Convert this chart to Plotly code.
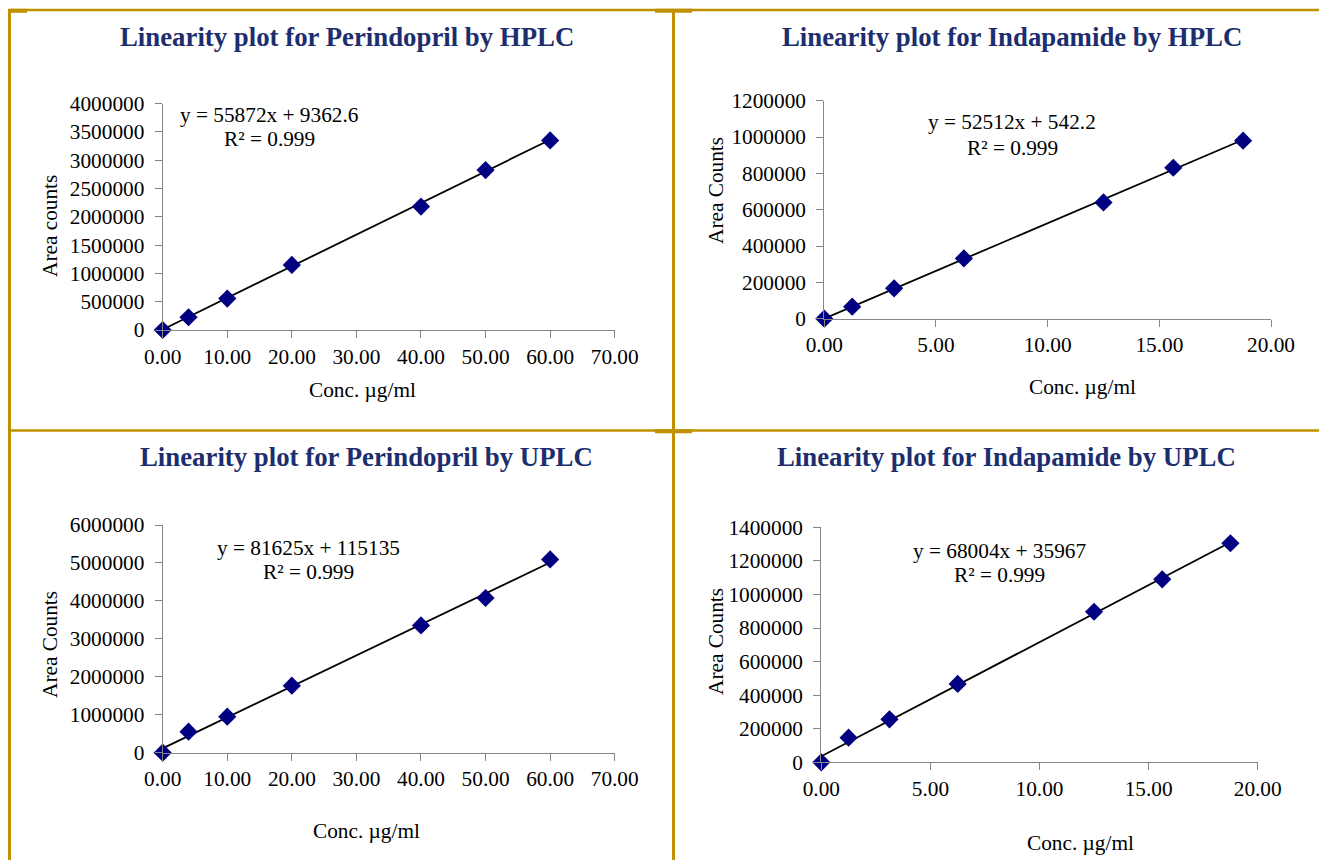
import plotly.graph_objects as go

# ---- data -------------------------------------------------------------
conc_perindopril = [0, 4, 10, 20, 40, 50, 60]
area_perindopril_hplc = [0, 225000, 555000, 1150000, 2180000, 2825000, 3350000]
area_perindopril_uplc = [0, 553000, 950000, 1765000, 3355000, 4076000, 5094000]

conc_indapamide = [0, 1.25, 3.125, 6.25, 12.5, 15.625, 18.75]
area_indapamide_hplc = [0, 66000, 167000, 332000, 640000, 831000, 980000]
area_indapamide_uplc = [0, 147000, 256000, 467000, 897000, 1090000, 1305000]

# regression results (slope, intercept, R²)
fit_perindopril_hplc = (55872, 9362.6, 0.999)
fit_indapamide_hplc = (52512, 542.2, 0.999)
fit_perindopril_uplc = (81625, 115135, 0.999)
fit_indapamide_uplc = (68004, 35967, 0.999)

titles = [
    "Linearity plot for Perindopril by HPLC",
    "Linearity plot for Indapamide by HPLC",
    "Linearity plot for Perindopril by UPLC",
    "Linearity plot for Indapamide by UPLC",
]
y_titles = ["Area counts", "Area Counts", "Area Counts", "Area Counts"]
x_title = "Conc. µg/ml"

x_ranges = [(0, 70, 10), (0, 20, 5), (0, 70, 10), (0, 20, 5)]
y_ranges = [(0, 4000000, 500000), (0, 1200000, 200000),
            (0, 6000000, 1000000), (0, 1400000, 200000)]

# ---- layout geometry (pixels) -----------------------------------------
W, H = 1319, 860
# plot-area boxes: left, right, top, bottom
boxes = [
    (162.7, 614.7, 103.6, 330.0),
    (824.3, 1271.0, 100.7, 318.7),
    (162.7, 614.7, 525.0, 752.7),
    (821.3, 1257.7, 527.3, 762.3),
]
title_pos = [(347, 37), (1012, 37), (367, 457), (1006, 457)]
xtitle_pos = [(363, 390), (1082, 387), (367, 831), (1080, 843)]
ytitle_pos = [(50, 226), (716, 191), (50, 645), (716, 642)]
eq_pos = [(269, 115, 139), (1012, 122, 148), (308, 548, 572), (999, 551, 575)]

SERIF = "Liberation Serif, Times New Roman, serif"
NAVY = "#1c2e6e"
GOLD = "#bf9000"
AXIS_GRAY = "#868686"
TXT = 21.3


def px(x):
    return x / W


def py(y):
    return 1 - y / H


panels = [
    (conc_perindopril, area_perindopril_hplc, fit_perindopril_hplc),
    (conc_indapamide, area_indapamide_hplc, fit_indapamide_hplc),
    (conc_perindopril, area_perindopril_uplc, fit_perindopril_uplc),
    (conc_indapamide, area_indapamide_uplc, fit_indapamide_uplc),
]

fig = go.Figure()
layout = dict(
    template="none",
    width=W, height=H,
    margin=dict(l=0, r=0, t=0, b=0, pad=0, autoexpand=False),
    paper_bgcolor="white", plot_bgcolor="white",
    showlegend=False,
    font=dict(family=SERIF, color="black", size=TXT),
)
annotations = []

for i, (xs, ys, (slope, intercept, r2)) in enumerate(panels):
    n = "" if i == 0 else str(i + 1)
    xa, ya = "x" + n, "y" + n
    l, r, t, b = boxes[i]

    # trend line from the fitted equation
    x_end = max(xs)
    fig.add_trace(go.Scatter(
        x=[0, x_end], y=[intercept, slope * x_end + intercept],
        mode="lines", line=dict(color="black", width=1.8),
        xaxis=xa, yaxis=ya, hoverinfo="skip", cliponaxis=False,
    ))
    # measured points
    fig.add_trace(go.Scatter(
        x=xs, y=ys, mode="markers",
        marker=dict(symbol="diamond", size=14, color="#000080",
                    line=dict(width=0)),
        xaxis=xa, yaxis=ya, cliponaxis=False,
    ))

    x0, x1, dx = x_ranges[i]
    y0, y1, dy = y_ranges[i]
    common = dict(showgrid=False, zeroline=False, showline=True,
                  automargin=False,
                  linecolor=AXIS_GRAY, linewidth=1.2,
                  ticks="outside", ticklen=7, tickcolor=AXIS_GRAY,
                  tickwidth=1.2,
                  tickfont=dict(family=SERIF, size=TXT, color="black"))
    layout["xaxis" + n] = dict(
        domain=[px(l), px(r)], range=[x0, x1], dtick=dx, tick0=0,
        tickformat=".2f", anchor=ya, **common)
    layout["yaxis" + n] = dict(
        domain=[py(b), py(t)], range=[y0, y1], dtick=dy, tick0=0,
        tickformat="d", anchor=xa, ticklabelstandoff=6, **common)

    # panel title
    tx, ty = title_pos[i]
    annotations.append(dict(
        text="<b>" + titles[i] + "</b>", x=px(tx), y=py(ty),
        xref="paper", yref="paper", showarrow=False,
        xanchor="center", yanchor="middle",
        font=dict(family=SERIF, size=26.8, color=NAVY)))
    # axis titles
    ax, ay = xtitle_pos[i]
    annotations.append(dict(
        text=x_title, x=px(ax), y=py(ay), xref="paper", yref="paper",
        showarrow=False, xanchor="center", yanchor="middle",
        font=dict(family=SERIF, size=TXT, color="black")))
    vx, vy = ytitle_pos[i]
    annotations.append(dict(
        text=y_titles[i], x=px(vx), y=py(vy), xref="paper", yref="paper",
        showarrow=False, xanchor="center", yanchor="middle", textangle=-90,
        font=dict(family=SERIF, size=TXT, color="black")))
    # regression equation
    ex, ey1, ey2 = eq_pos[i]
    sign = "+" if intercept >= 0 else "-"
    eq = f"y = {slope}x {sign} {abs(intercept):g}"
    annotations.append(dict(
        text=eq, x=px(ex), y=py(ey1), xref="paper", yref="paper",
        showarrow=False, xanchor="center", yanchor="middle",
        font=dict(family=SERIF, size=TXT, color="black")))
    annotations.append(dict(
        text=f"R² = {r2}", x=px(ex), y=py(ey2), xref="paper", yref="paper",
        showarrow=False, xanchor="center", yanchor="middle",
        font=dict(family=SERIF, size=TXT, color="black")))

layout["annotations"] = annotations

# golden frame dividing the four panels: (x0, y0, x1, y1, width)
frame = [
    (9.5, 10, W, 10, 2.5),          # top edge
    (9.5, 9, 9.5, H, 3),            # left edge
    (673.5, 9, 673.5, H, 3),        # vertical divider
    (9.5, 430.5, W, 430.5, 2.5),    # horizontal divider
    (8, 10.8, 27, 10.8, 4),         # heavier corner pieces
    (655, 10.8, 692, 10.8, 4),
    (655, 431.3, 692, 431.3, 4),
]
layout["shapes"] = [
    dict(type="line", xref="paper", yref="paper",
         x0=px(a), y0=py(b), x1=px(c), y1=py(d),
         line=dict(color=GOLD, width=w))
    for a, b, c, d, w in frame
]

fig.update_layout(**layout)
fig.write_html("out.html")
